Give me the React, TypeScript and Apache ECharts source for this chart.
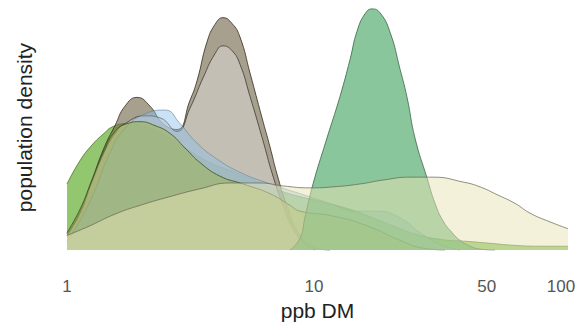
import React, { useEffect, useRef } from "react";
import * as echarts from "echarts";

// x values in ppb DM (log scale), y values = relative population density
const tickLabels = [1, 10, 50, 100];

const brownPpb = [1, 1.129, 1.262, 1.412, 1.564, 1.717, 1.92, 2.168, 2.447, 2.788, 3.147, 3.36, 3.688, 3.974, 4.281, 4.656, 5.016, 5.507, 6.159, 6.637, 7.084, 7.776, 8.535, 9.908, 11.61];
const brownDensity = [17, 40, 72, 105, 128, 148, 157, 148, 130, 124, 154, 174, 214, 232, 239, 233, 219, 182, 136, 106, 78, 45, 20, 3, 0];

const grayPpb = [1, 1.129, 1.262, 1.412, 1.564, 1.717, 2.069, 2.379, 2.788, 3.147, 3.553, 3.974, 4.281, 4.656, 5.016, 5.507, 6.159, 6.823, 7.49, 8.222, 9.196, 10.09];
const grayDensity = [15, 38, 70, 100, 120, 130, 138, 136, 122, 146, 177, 202, 210, 205, 191, 158, 116, 76, 46, 22, 6, 0];

const bluePpb = [1, 1.239, 1.493, 1.717, 2.069, 2.493, 2.868, 3.298, 3.974, 5.016, 6.637, 8.776, 11.61, 14.66, 18.16, 22.3, 26.86, 32.37, 39.0];
const blueDensity = [8, 50, 100, 125, 140, 144, 130, 112, 95, 80, 68, 58, 48, 40, 40, 33, 18, 6, 0];

const sagePpb = [1, 1.239, 1.493, 1.717, 1.975, 2.271, 2.612, 3.004, 3.455, 4.163, 5.016, 6.045, 7.284];
const sageDensity = [10, 35, 57, 78, 89, 86, 77, 62, 44, 24, 12, 5, 0];

const limePpb = [1, 1.129, 1.262, 1.412, 1.536, 1.75, 2.069, 2.447, 3.004, 3.794, 5.016, 6.334, 7.49, 8.776, 10.58, 13.11, 15.79, 19.02, 22.3, 26.12, 32.37, 41.63, 51.6, 63.93, 82.22, 106.7];
const limeDensity = [68, 92, 108, 120, 127, 130, 127, 119, 105, 90, 78, 67, 60, 55, 50, 44, 37, 29, 22, 16, 11, 9, 7, 5, 4, 4];

const olivePpb = [1, 1.129, 1.262, 1.412, 1.564, 1.75, 1.975, 2.271, 2.612, 3.004, 3.455, 4.163, 5.159, 6.637, 7.996, 8.776, 11.94, 16.39, 22.3, 27.62, 33.91];
const oliveDensity = [18, 42, 72, 102, 122, 130, 132, 128, 120, 105, 90, 76, 68, 58, 46, 40, 35, 25, 10, 2, 0];

const tealPpb = [7.996, 8.776, 9.196, 9.908, 11.18, 12.74, 13.99, 14.93, 16.09, 17.17, 18.5, 20.31, 22.3, 23.8, 25.64, 28.68, 30.9, 33.29, 36.2, 39.0, 42.81, 47.0, 54.06];
const tealDensity = [0, 12, 34, 68, 112, 158, 196, 225, 243, 248, 244, 224, 186, 157, 115, 74, 48, 30, 18, 10, 4, 1, 0];

const yellowPpb = [1, 1.239, 1.564, 1.975, 2.612, 3.455, 4.571, 6.045, 7.49, 9.634, 11.94, 15.36, 19.02, 24.47, 30.33, 40.11, 47.0, 55.07, 65.14, 74.9, 90.29, 106.7];
const yellowDensity = [15, 25, 37, 46, 55, 63, 69, 69, 66, 64, 65, 68, 72, 75, 75, 70, 65, 57, 48, 38, 29, 22];

const X_MAX_PPB = 106.7;
const Y_MAX = 252;

const FONT = "'Liberation Sans', Arial, sans-serif";

function toPoints(xs: number[], ys: number[]) {
  return xs.map((x, i) => [Math.log10(x), ys[i]]);
}

function area(name: string, xs: number[], ys: number[], fill: string, stroke: string, z: number) {
  return {
    name,
    type: "line",
    data: toPoints(xs, ys),
    smooth: 0.5,
    showSymbol: false,
    symbol: "none",
    z,
    lineStyle: { color: stroke, width: 1 },
    areaStyle: { color: fill, opacity: 1 },
    silent: true,
  };
}

export default function App() {
  const ref = useRef<HTMLDivElement>(null);
  useEffect(() => {
    if (!ref.current) return;
    const chart = echarts.init(ref.current, null, { renderer: "svg" });
    chart.setOption({
      animation: false,
      backgroundColor: "#ffffff",
      grid: { left: 67, right: 11, top: 5, bottom: 69 },
      xAxis: {
        type: "value",
        min: 0,
        max: Math.log10(X_MAX_PPB),
        name: "ppb DM",
        nameLocation: "middle",
        nameGap: 48,
        nameTextStyle: { fontSize: 21, color: "#222", fontFamily: FONT },
        axisLine: { show: false },
        axisTick: { show: false },
        splitLine: { show: false },
        axisLabel: {
          customValues: tickLabels.map((t) => Math.log10(t)),
          formatter: (v: number) => String(Math.round(Math.pow(10, v))),
          fontSize: 17,
          color: "#555",
          margin: 28,
          fontFamily: FONT,
          showMinLabel: true,
          showMaxLabel: true,
        },
      },
      yAxis: {
        type: "value",
        min: 0,
        max: Y_MAX,
        name: "population density",
        nameLocation: "middle",
        nameRotate: 90,
        nameGap: 32,
        nameTextStyle: { fontSize: 21, color: "#222", fontFamily: FONT },
        axisLine: { show: false },
        axisTick: { show: false },
        axisLabel: { show: false },
        splitLine: { show: false },
      },
      series: [
        area("sage", sagePpb, sageDensity, "rgba(170,185,130,0.35)", "rgba(150,160,120,0.35)", 1),
        area("lime", limePpb, limeDensity, "rgba(100,175,50,0.7)", "rgba(70,110,40,0.75)", 2),
        area("brown", brownPpb, brownDensity, "rgba(115,102,72,0.62)", "rgba(60,52,35,0.85)", 3),
        area("gray", grayPpb, grayDensity, "rgba(215,212,205,0.6)", "rgba(60,60,55,0.8)", 4),
        area("blue", bluePpb, blueDensity, "rgba(140,190,230,0.45)", "rgba(100,130,150,0.6)", 5),
        area("olive", olivePpb, oliveDensity, "rgba(160,180,95,0.6)", "rgba(60,80,30,0.8)", 6),
        area("teal", tealPpb, tealDensity, "rgba(60,160,90,0.6)", "rgba(60,100,70,0.8)", 7),
        area("yellow", yellowPpb, yellowDensity, "rgba(232,228,180,0.5)", "rgba(100,100,80,0.7)", 8),
      ],
    });
    return () => chart.dispose();
  }, []);
  return (
    <div
      ref={ref}
      style={{ position: "fixed", left: 0, top: 0, width: 579, height: 326 }}
    />
  );
}
